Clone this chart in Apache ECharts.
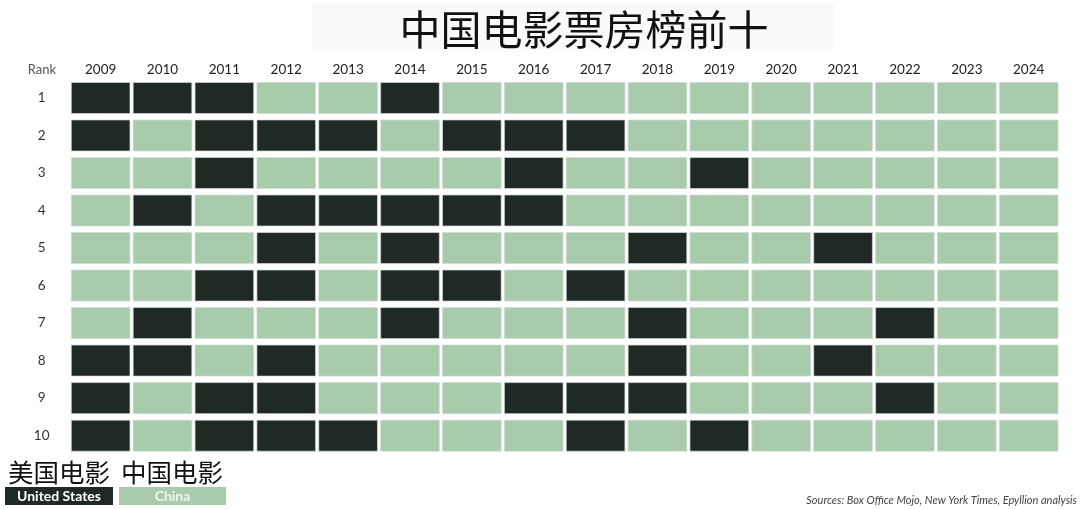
<!DOCTYPE html>
<html>
<head>
<meta charset="utf-8">
<script src="https://cdn.jsdelivr.net/npm/echarts@6/dist/echarts.min.js"></script>
<style>
html,body{margin:0;padding:0;background:#fff;}
#chart{width:1080px;height:509px;}
</style>
</head>
<body>
<div id="chart"></div>
<script>
const years = ['2009','2010','2011','2012','2013','2014','2015','2016','2017','2018','2019','2020','2021','2022','2023','2024'];
const ranks = ['1','2','3','4','5','6','7','8','9','10'];
// 'US' = United States film, 'CN' = Chinese film; one entry per year 2009..2024
const rank1  = ['US','US','US','CN','CN','US','CN','CN','CN','CN','CN','CN','CN','CN','CN','CN'];
const rank2  = ['US','CN','US','US','US','CN','US','US','US','CN','CN','CN','CN','CN','CN','CN'];
const rank3  = ['CN','CN','US','CN','CN','CN','CN','US','CN','CN','US','CN','CN','CN','CN','CN'];
const rank4  = ['CN','US','CN','US','US','US','US','US','CN','CN','CN','CN','CN','CN','CN','CN'];
const rank5  = ['CN','CN','CN','US','CN','US','CN','CN','CN','US','CN','CN','US','CN','CN','CN'];
const rank6  = ['CN','CN','US','US','CN','US','US','CN','US','CN','CN','CN','CN','CN','CN','CN'];
const rank7  = ['CN','US','CN','CN','CN','US','CN','CN','CN','US','CN','CN','CN','US','CN','CN'];
const rank8  = ['US','US','CN','US','CN','CN','CN','CN','CN','US','CN','CN','US','CN','CN','CN'];
const rank9  = ['US','CN','US','US','CN','CN','CN','US','US','US','CN','CN','CN','US','CN','CN'];
const rank10 = ['US','CN','US','US','US','CN','CN','CN','US','CN','US','CN','CN','CN','CN','CN'];
const rankRows = [rank1, rank2, rank3, rank4, rank5, rank6, rank7, rank8, rank9, rank10];

const titleText = '中国电影票房榜前十';
const legendUS = '美国电影';
const legendCN = '中国电影';
const sourceText = 'Sources: Box Office Mojo, New York Times, Epyllion analysis';

const DARK = '#1e2a23';
const LIGHT = '#a8cbab';

const cells = [];
rankRows.forEach((row, r) => {
  row.forEach((v, c) => {
    cells.push([c, r, v === 'US' ? 1 : 0]);
  });
});

const chart = echarts.init(document.getElementById('chart'), null, {renderer: 'canvas'});
const labelFont = 'Lato, "Open Sans", sans-serif';
const cjkFont = '"Noto Sans CJK SC", sans-serif';

chart.setOption({
  backgroundColor: '#fff',
  animation: false,
  grid: {left: 69.7, top: 79.2, width: 989.9, height: 375.2, containLabel: false},
  xAxis: {
    type: 'category', data: years, position: 'top',
    axisLine: {show: false}, axisTick: {show: false}, splitLine: {show: false},
    axisLabel: {color: '#222', fontSize: 13.5, fontFamily: labelFont, margin: 3}
  },
  yAxis: {
    type: 'category', data: ranks, inverse: true,
    axisLine: {show: false}, axisTick: {show: false}, splitLine: {show: false},
    axisLabel: {color: '#333', fontSize: 13.5, fontFamily: labelFont, margin: 28, align: 'center'}
  },
  graphic: [
    {type: 'rect', left: 312, top: 4, shape: {width: 523, height: 45}, style: {fill: '#fafafa'}, z: -1},
    {type: 'text', x: 584, y: 29, style: {text: titleText, fontSize: 41, fontFamily: cjkFont, fill: '#111', textAlign: 'center', textVerticalAlign: 'middle'}},
    {type: 'text', x: 42, y: 70, style: {text: 'Rank', fontSize: 13, fontFamily: labelFont, fill: '#555', textAlign: 'center', textVerticalAlign: 'middle'}},
    {type: 'text', x: 8, y: 472, style: {text: legendUS, fontSize: 25.5, fontFamily: cjkFont, fill: '#111', textAlign: 'left', textVerticalAlign: 'middle'}},
    {type: 'text', x: 121, y: 472, style: {text: legendCN, fontSize: 25.5, fontFamily: cjkFont, fill: '#111', textAlign: 'left', textVerticalAlign: 'middle'}},
    {type: 'rect', shape: {x: 5, y: 487, width: 108, height: 18}, style: {fill: DARK}},
    {type: 'text', x: 59, y: 496, style: {text: 'United States', fontSize: 14, fontWeight: 'bold', fontFamily: labelFont, fill: '#fff', textAlign: 'center', textVerticalAlign: 'middle'}},
    {type: 'rect', shape: {x: 119, y: 487, width: 107, height: 18}, style: {fill: LIGHT}},
    {type: 'text', x: 172.5, y: 496, style: {text: 'China', fontSize: 14, fontWeight: 'bold', fontFamily: labelFont, fill: '#eef5ef', textAlign: 'center', textVerticalAlign: 'middle'}},
    {type: 'text', x: 1077, y: 500, style: {text: sourceText, fontSize: 11, fontStyle: 'italic', fontFamily: labelFont, fill: '#444', textAlign: 'right', textVerticalAlign: 'middle'}}
  ],
  series: [{
    type: 'custom',
    data: cells,
    renderItem: function (params, api) {
      const p = api.coord([api.value(0), api.value(1)]);
      const s = api.size([1, 1]);
      const w = s[0] - 3.2;
      const h = s[1] - 6.5;
      return {
        type: 'rect',
        shape: {x: p[0] - w / 2, y: p[1] - h / 2, width: w, height: h},
        style: {fill: api.value(2) === 1 ? DARK : LIGHT, stroke: 'rgba(210,218,212,0.7)', lineWidth: 1}
      };
    }
  }]
});
</script>
</body>
</html>
